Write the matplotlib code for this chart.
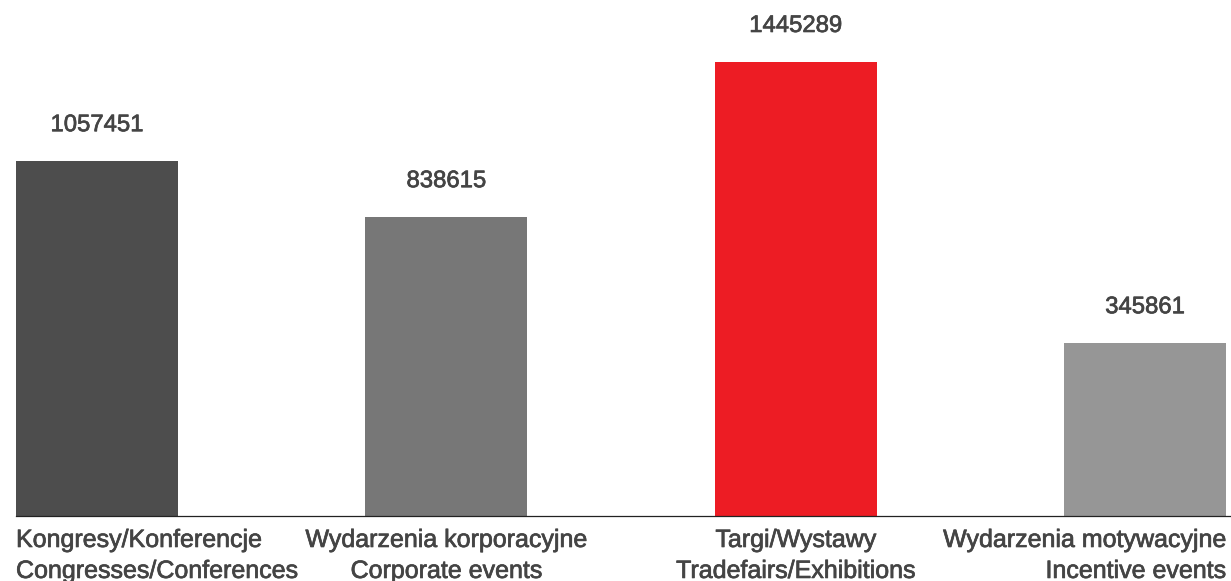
import matplotlib.pyplot as plt
import matplotlib.patheffects as pe

# Data
labels_pl = ["Kongresy/Konferencje", "Wydarzenia korporacyjne",
             "Targi/Wystawy", "Wydarzenia motywacyjne"]
labels_en = ["Congresses/Conferences", "Corporate events",
             "Tradefairs/Exhibitions", "Incentive events"]
values = [1057451, 838615, 1445289, 345861]
colors = ["#4d4d4d", "#777777", "#ed1c24", "#969696"]

# The value axis in the original does not start at zero
y_floor = -330000
y_top = 1687000
bar_w = 0.464
text_color = "#444444"


def main():
    plt.rcParams['font.family'] = ['Liberation Sans', 'DejaVu Sans']
    fig = plt.figure(figsize=(12.31, 5.81), dpi=100)
    ax = fig.add_axes([16 / 1231, 65 / 581, 1 - 16 / 1231, 1 - 65 / 581])

    pos = list(range(len(values)))
    heights = [v - y_floor for v in values]
    ax.bar(pos, heights, bottom=y_floor, width=bar_w, color=colors)

    ax.set_xlim(-bar_w / 2, 3.246)
    ax.set_ylim(y_floor, y_top)

    # slightly heavier text, the original uses a medium weight font
    thick = [pe.withStroke(linewidth=0.5, foreground=text_color)]

    # Value labels above bars
    for x, v in zip(pos, values):
        ax.annotate(str(v), xy=(x, v), xytext=(0, 21.5),
                    textcoords="offset points", ha="center", va="baseline",
                    fontsize=17.2, color=text_color, path_effects=thick)

    # Two-line category labels under the axis
    aligns = ["left", "center", "center", "right"]
    for x, pl, en, ha in zip(pos, labels_pl, labels_en, aligns):
        if ha == "left":
            xa = x - bar_w / 2
        elif ha == "right":
            xa = x + bar_w / 2
        else:
            xa = x
        ax.annotate(pl, xy=(xa, 0), xycoords=("data", "axes fraction"),
                    xytext=(0, -22.3), textcoords="offset points",
                    ha=ha, va="baseline", fontsize=18, color=text_color,
                    path_effects=thick)
        ax.annotate(en, xy=(xa, 0), xycoords=("data", "axes fraction"),
                    xytext=(0, -44.6), textcoords="offset points",
                    ha=ha, va="baseline", fontsize=18, color=text_color,
                    path_effects=thick)

    for s in ["top", "left", "right"]:
        ax.spines[s].set_visible(False)
    ax.spines["bottom"].set_color("#222222")
    ax.spines["bottom"].set_linewidth(0.9)
    ax.set_xticks([])
    ax.set_yticks([])

    fig.savefig("out.png", dpi=100)


if __name__ == "__main__":
    main()
